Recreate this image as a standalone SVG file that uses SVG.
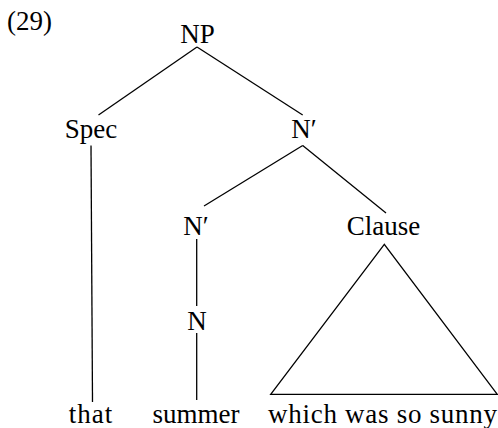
<svg xmlns="http://www.w3.org/2000/svg" width="498" height="428" viewBox="0 0 498 428">
<style>
.e{stroke:#000;stroke-width:1.3;fill:none}
</style>
<rect width="498" height="428" fill="#fff"/>
<text x="7" y="30" font-family="Liberation Serif" font-size="27">(29)</text>
<g id="connectors">
<line class="e" x1="197" y1="47" x2="98.5" y2="115"/>
<line class="e" x1="197" y1="47" x2="302.7" y2="115"/>
<line class="e" x1="91" y1="145.5" x2="92.5" y2="402"/>
<line class="e" x1="302.7" y1="145.5" x2="204" y2="206"/>
<line class="e" x1="302.7" y1="145.5" x2="386" y2="213"/>
<line class="e" x1="196.7" y1="239" x2="196.7" y2="306"/>
<line class="e" x1="196.7" y1="333" x2="196.7" y2="400"/>
<polygon class="e" points="384.3,244.3 270.7,394.3 497.3,394.3"/>
</g>
<g id="np"><text x="197.5" y="43" font-family="Liberation Serif" font-size="27" text-anchor="middle">NP</text></g>
<g id="spec"><text x="91" y="138" font-family="Liberation Serif" font-size="27" text-anchor="middle">Spec</text></g>
<g id="nbar1"><text x="304" y="138" font-family="Liberation Serif" font-size="27" text-anchor="middle">N′</text></g>
<g id="nbar2"><text x="196" y="235" font-family="Liberation Serif" font-size="27" text-anchor="middle">N′</text></g>
<g id="clause"><text x="383.5" y="235" font-family="Liberation Serif" font-size="27" text-anchor="middle">Clause</text></g>
<g id="n"><text x="197" y="330" font-family="Liberation Serif" font-size="27" text-anchor="middle">N</text></g>
<g id="that"><text x="91" y="423" font-family="Liberation Serif" font-size="27" text-anchor="middle" letter-spacing="1">that</text></g>
<g id="summer"><text x="196" y="423" font-family="Liberation Serif" font-size="27" text-anchor="middle">summer</text></g>
<g id="which"><text x="268" y="423" font-family="Liberation Serif" font-size="27" textLength="229" lengthAdjust="spacing">which was so sunny</text></g>
</svg>
